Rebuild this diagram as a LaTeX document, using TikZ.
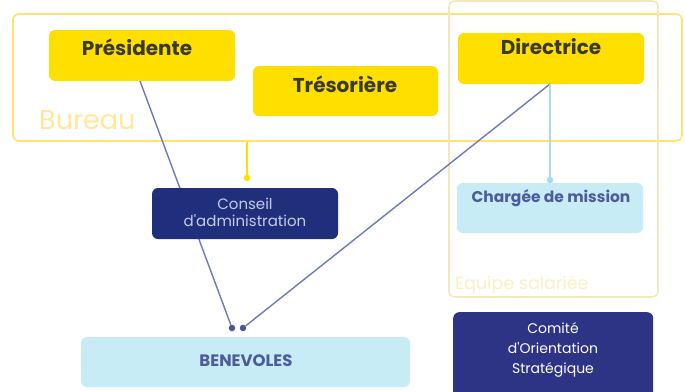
\documentclass[tikz,border=0pt]{standalone}
\usepackage{fontspec}
\setmainfont{Poppins}
\definecolor{ybox}{HTML}{FFDF00}
\definecolor{yframe}{HTML}{FFE36E}
\definecolor{eframe}{HTML}{F2E8BC}
\definecolor{ylabel}{HTML}{FFE89A}
\definecolor{elabel}{HTML}{FBF0C6}
\definecolor{navy}{HTML}{1F2F7C}
\definecolor{navytxt}{HTML}{C6CBE9}
\definecolor{comite}{HTML}{2D3486}
\definecolor{lblue}{HTML}{C7ECF5}
\definecolor{lbtxt}{HTML}{4B5B9B}
\definecolor{pline}{HTML}{6F79B9}
\definecolor{pdot}{HTML}{4B5599}
\definecolor{bline}{HTML}{A9DCEB}
\definecolor{ytitle}{HTML}{3A3A30}
\begin{document}
\begin{tikzpicture}[x=1pt,y=-1pt,
  frame/.style={draw, rounded corners=6pt, line width=1.6pt, inner sep=0pt},
  boxbase/.style={rounded corners=6pt, inner sep=0pt},
  yellowbox/.style={boxbase, fill=ybox},
  ytext/.style={text=ytitle, font=\bfseries\fontsize{20}{24}\selectfont, inner sep=0pt},
  bluebox/.style={boxbase, fill=lblue},
  btext/.style={text=lbtxt, font=\bfseries\fontsize{15}{18}\selectfont, inner sep=0pt},
  pconn/.style={draw=pline, line width=1.4pt},
  dot/.style={circle, inner sep=0pt, minimum size=6.5pt},
]
\useasboundingbox[fill=white] (0,0) rectangle (685,391);
% frames
\node[frame, draw=yframe, minimum width=669pt, minimum height=127pt] (bureau) at (347.5,77.5) {};
\node[frame, draw=eframe, minimum width=209pt, minimum height=296pt] (equipe) at (553.5,149) {};
\node[text=ylabel, font=\fontsize{27}{30}\selectfont, anchor=base west, inner sep=0pt] (bureaulbl) at (39,129) {Bureau};
\node[text=elabel, font=\fontsize{17.5}{20}\selectfont, anchor=base west, inner sep=0pt] (equipelbl) at (455,289) {Equipe salariée};
% yellow boxes
\node[yellowbox, minimum width=186pt, minimum height=51pt] (pres) at (142,55.5) {};
\node[ytext] (prestxt) at (137,47) {Présidente};
\node[yellowbox, minimum width=185pt, minimum height=50pt] (treso) at (345.5,91) {};
\node[ytext] (tresotxt) at (345,84) {Trésorière};
\node[yellowbox, minimum width=186pt, minimum height=51pt] (dir) at (551,58.5) {};
\node[ytext] (dirtxt) at (551,47) {Directrice};
% light blue boxes
\node[bluebox, minimum width=329pt, minimum height=50pt] (benev) at (245.5,362) {};
\node[btext, font=\bfseries\fontsize{16.5}{18}\selectfont] (benevtxt) at (246,361) {BENEVOLES};
\node[bluebox, minimum width=186pt, minimum height=50pt] (charge) at (550,208) {};
\node[btext, font=\bfseries\fontsize{15.5}{18}\selectfont] (chargetxt) at (551,198) {Chargée de mission};
% comite
\node[boxbase, fill=comite, minimum width=200pt, minimum height=100pt, anchor=north west] (comite) at (453,312) {};
\node[text=white, font=\fontsize{14}{20}\selectfont, align=center, inner sep=0pt] (comitetxt) at (553,350) {Comité\\d\textquotesingle Orientation\\Stratégique};
% dots
\node[dot, fill=pdot] (d1) at (232,328) {};
\node[dot, fill=pdot] (d2) at (243,328) {};
\coordinate (presbot) at (140,81);
\coordinate (dirbot) at (550,84);
\node[dot, fill=ybox] (ydot) at (247,178) {};
\node[dot, fill=bline] (bdot) at (550,180) {};
% connectors
\draw[pconn] (presbot) -- (d1);
\draw[pconn] (dirbot) -- (d2);
\draw[draw=ybox, line width=1.4pt] (bureau.south -| ydot) -- (ydot);
\draw[draw=bline, line width=1.4pt] (dirbot) -- (bdot);
% conseil (drawn over the line)
\node[boxbase, fill=navy, minimum width=186pt, minimum height=51pt] (conseil) at (245,213.5) {};
\node[text=navytxt, font=\fontsize{15}{17}\selectfont, align=center, inner sep=0pt] (conseiltxt) at (245,212) {Conseil\\d\textquotesingle administration};
\end{tikzpicture}
\end{document}
